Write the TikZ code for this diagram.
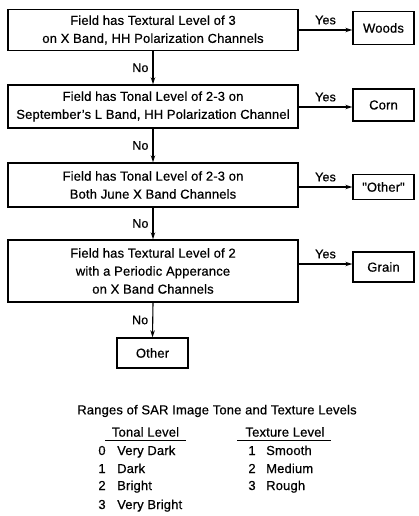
\documentclass[tikz,border=0pt]{standalone}
\usepackage{fontspec}
\setmainfont[LetterSpace=1.2,FakeBold=0.6]{Liberation Sans}
\newfontfamily\nomapfont[LetterSpace=1.2,FakeBold=0.6]{Liberation Sans}
\usetikzlibrary{arrows.meta}
\begin{document}
\begin{tikzpicture}[x=1pt,y=-1pt,
  every node/.style={font=\fontsize{13}{18}\selectfont, inner sep=0pt},
  qbox/.style={draw, line width=1.4pt, minimum width=290pt, align=center},
  abox/.style={draw, line width=1.4pt, minimum width=61pt, align=center},
  conn/.style={line width=1.1pt, -{Stealth[length=7pt,width=4.5pt]}},
  lab/.style={font=\fontsize{12.5}{14}\selectfont}]
\useasboundingbox (0,0) rectangle (418,516);
% question boxes
\node[qbox, minimum height=41pt] (q1) at (153,30) {Field has Textural Level of 3\\on X Band, HH Polarization Channels};
\node[qbox, minimum height=43pt] (q2) at (153,106.5) {Field has Tonal Level of 2-3 on\\September's L Band, HH Polarization Channel};
\node[qbox, minimum height=44pt] (q3) at (153,185) {Field has Tonal Level of 2-3 on\\Both June X Band Channels};
\node[qbox, minimum height=62pt] (q4) at (153,271) {Field has Textural Level of 2\\with a Periodic Apperance\\on X Band Channels};
% answer boxes
\node[abox, minimum height=33pt] (a1) at (383.5,28) {Woods};
\node[abox, minimum height=32pt] (a2) at (383.5,105) {Corn};
\node[abox, minimum height=25pt] (a3) at (383.5,187) {{\nomapfont"}Other{\nomapfont"}};
\node[abox, minimum height=30pt] (a4) at (383.5,267) {Grain};
\node[draw, line width=1.4pt, minimum width=71pt, minimum height=30pt] (o) at (152.5,353) {Other};
% yes connectors
\draw[conn] (q1.east |- 0,30) -- node[lab, above=5pt] {Yes} (a1.west |- 0,30);
\draw[conn] (q2.east |- 0,107) -- node[lab, above=5pt] {Yes} (a2.west |- 0,107);
\draw[conn] (q3.east |- 0,187) -- node[lab, above=5pt] {Yes} (a3.west |- 0,187);
\draw[conn] (q4.east |- 0,264) -- node[lab, above=5pt] {Yes} (a4.west |- 0,264);
% no connectors
\draw[conn] (q1.south) -- node[lab, left=4pt] {No} (q2.north);
\draw[conn] (q2.south) -- node[lab, left=4pt] {No} (q3.north);
\draw[conn] (q3.south) -- node[lab, left=4pt] {No} (q4.north);
\draw[conn] (q4.south) -- node[lab, left=4pt] {No} (o.north);
% legend
\node (lt) at (217,411) {Ranges of SAR Image Tone and Texture Levels};
\node (th) at (145.5,432) {Tonal Level};
\node (xh) at (285,432) {Texture Level};
\draw[line width=0.9pt] (105,440.5) -- (186,440.5);
\draw[line width=0.9pt] (237,440.5) -- (331,440.5);
\node[anchor=base] (n0) at (102,455) {0};
\node[anchor=base] (n1) at (102,473) {1};
\node[anchor=base] (n2) at (102,490) {2};
\node[anchor=base] (n3) at (102,509) {3};
\node[anchor=base west] (l0) at (117,455) {Very Dark};
\node[anchor=base west] (l1) at (117,473) {Dark};
\node[anchor=base west] (l2) at (117,490) {Bright};
\node[anchor=base west] (l3) at (117,509) {Very Bright};
\node[anchor=base] (m1) at (252,455) {1};
\node[anchor=base] (m2) at (252,473) {2};
\node[anchor=base] (m3) at (252,490) {3};
\node[anchor=base west] (r1) at (266,455) {Smooth};
\node[anchor=base west] (r2) at (266,473) {Medium};
\node[anchor=base west] (r3) at (266,490) {Rough};
\end{tikzpicture}
\end{document}
